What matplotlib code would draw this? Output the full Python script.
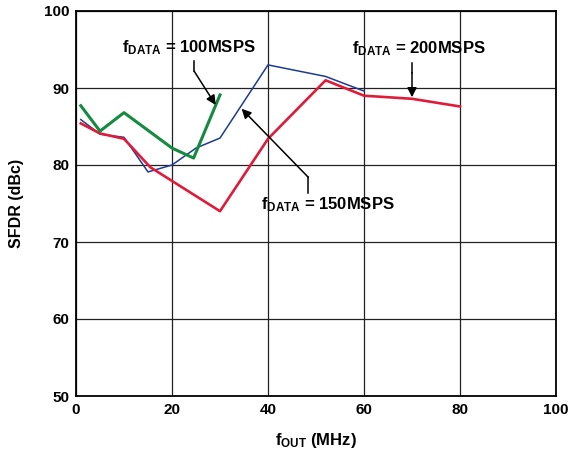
import matplotlib
matplotlib.use("Agg")
import matplotlib.pyplot as plt

plt.rcParams['font.family'] = ['Liberation Sans', 'DejaVu Sans']
plt.rcParams['font.weight'] = 'bold'
plt.rcParams['mathtext.fontset'] = 'custom'
plt.rcParams['mathtext.rm'] = 'Liberation Sans:bold'
plt.rcParams['mathtext.bf'] = 'Liberation Sans:bold'
plt.rcParams['mathtext.it'] = 'Liberation Sans:bold'

# fDATA = 100MSPS
f_100 = [1, 5, 10, 20, 24.5, 30]
sfdr_100 = [87.7, 84.4, 86.8, 82.2, 80.9, 89.1]

# fDATA = 150MSPS
f_150 = [1, 5, 10, 15, 20, 25, 30, 40, 52, 60]
sfdr_150 = [85.9, 84.0, 83.6, 79.1, 80.0, 82.2, 83.5, 93.0, 91.5, 89.6]

# fDATA = 200MSPS
f_200 = [1, 5, 10, 15.5, 30, 40, 52, 60, 70, 80]
sfdr_200 = [85.4, 84.1, 83.4, 79.7, 74.0, 83.4, 91.0, 89.0, 88.6, 87.6]

xticks = [0, 20, 40, 60, 80, 100]
yticks = [50, 60, 70, 80, 90, 100]

fig = plt.figure(figsize=(5.76, 4.57), dpi=100)
ax = fig.add_axes([76/576, 1 - 396/457, 480/576, 385/457])

ax.plot(f_150, sfdr_150, color='#1d3c8f', lw=1.1, zorder=3)
ax.plot(f_200, sfdr_200, color='#e01b3a', lw=1.9, zorder=4)
ax.plot(f_100, sfdr_100, color='#158a40', lw=2.2, zorder=5)

ax.set_xlim(0, 100)
ax.set_ylim(50, 100)
ax.set_xticks(xticks)
ax.set_yticks(yticks)
ax.grid(True, color='#222222', lw=0.9)
ax.tick_params(length=0, labelsize=11, pad=5)
for s in ax.spines.values():
    s.set_linewidth(1.3)

ax.set_xlabel(r'f$_{\mathrm{OUT}}$ (MHz)', fontsize=12, fontweight='bold', labelpad=10)
ax.set_ylabel('SFDR (dBc)', fontsize=11.5, fontweight='bold', labelpad=14)

# annotations with elbow arrows
def callout(text, tx, ty, path, tip):
    ax.text(tx, ty, text, fontsize=12, fontweight='bold', ha='center', va='center')
    xs = [p[0] for p in path]
    ys = [p[1] for p in path]
    ax.plot(xs, ys, color='black', lw=1.1, zorder=6, clip_on=False)
    ax.annotate('', xy=tip, xytext=path[-1],
                arrowprops=dict(arrowstyle='-|>', color='black', lw=1.1,
                                mutation_scale=14, shrinkA=0, shrinkB=0),
                zorder=6)

callout(r'f$_{\mathrm{DATA}}$ = 100MSPS', 23.6, 95.3,
        [(24.6, 93.5), (24.6, 92.2)], (29.1, 87.8))
callout(r'f$_{\mathrm{DATA}}$ = 150MSPS', 52.5, 74.9,
        [(48.4, 76.3), (48.4, 78.4)], (34.5, 87.3))
callout(r'f$_{\mathrm{DATA}}$ = 200MSPS', 71.5, 95.1,
        [(70.0, 93.2), (70.0, 92.0)], (70.0, 88.8))

fig.savefig('out.png', dpi=100)
